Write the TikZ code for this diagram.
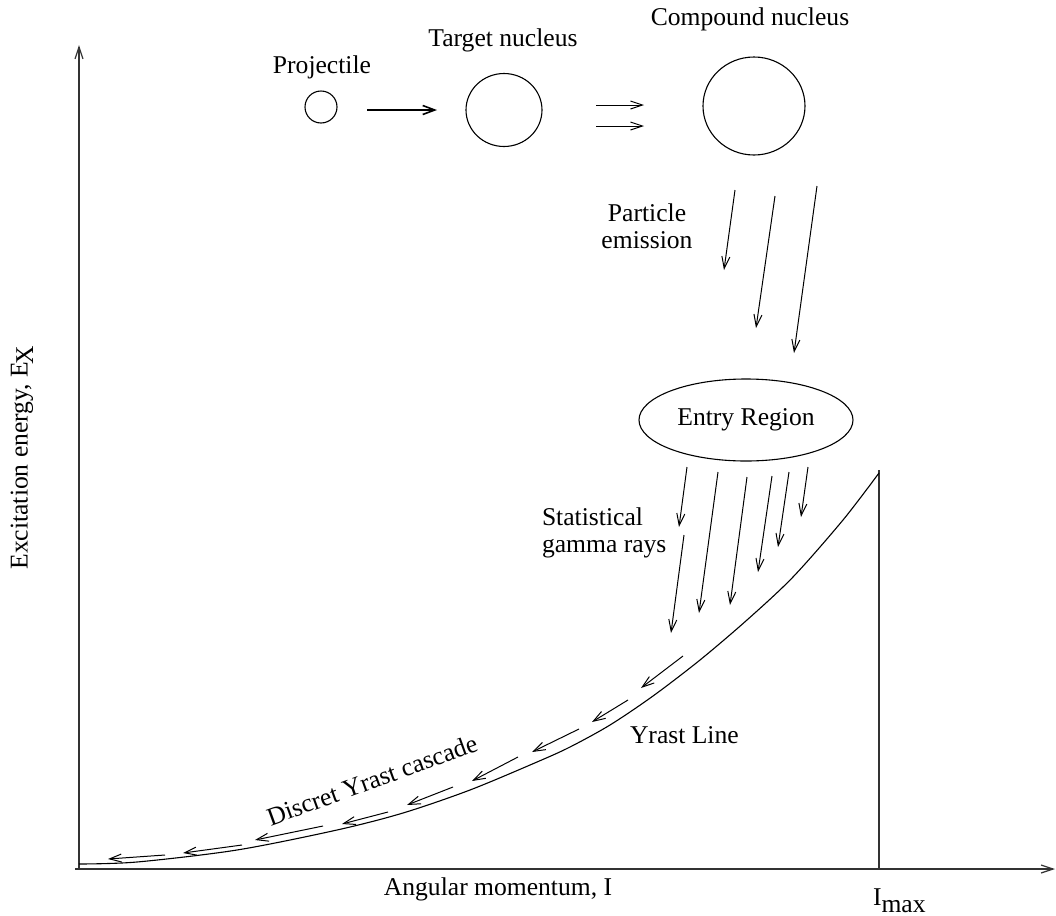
\documentclass[tikz,border=0pt]{standalone}
\usepackage{fontspec}
\setmainfont{Liberation Serif}
\usetikzlibrary{arrows.meta,shapes.geometric}
\begin{document}
\begin{tikzpicture}[x=0.5pt,y=-0.5pt,
  every node/.style={font=\fontsize{12.8}{14}\selectfont, inner sep=0pt, outer sep=0pt},
  nuc/.style={draw, ellipse, line width=0.55pt},
  arr/.style={line width=0.5pt, -{Straight Barb[length=6pt,width=4pt,line width=0.5pt]}},
  axis/.style={line width=0.7pt, draw=black!80, -{Straight Barb[length=6pt,width=4pt,line width=0.6pt]}},
  lbl/.style={anchor=base}]
\useasboundingbox (0,0) rectangle (1056,916);
% axes
\coordinate (O) at (79,869);
\coordinate (ytop) at (79,45);
\coordinate (xend) at (1055,869);
\coordinate (imaxb) at (879,869);
\coordinate (imaxt) at (879,470);
\draw[axis] (O) -- (ytop);
\draw[axis] (75,869) -- (xend);
\draw[line width=0.7pt, draw=black!80] (imaxb) -- (imaxt);
% axis labels
\node[rotate=90] (ylab) at (22,458) {Excitation energy, E\kern-0.12em\raisebox{-0.45ex}{X}};
\node[lbl] (xlab) at (498,895) {Angular momentum, I};
\node[anchor=base west] (imax) at (873,905) {I\raisebox{-3.5pt}{max}};
% nuclei
\node[nuc, minimum width=16pt, minimum height=16pt] (proj) at (321,107) {};
\node[nuc, minimum width=38pt, minimum height=36.5pt] (targ) at (504,110) {};
\node[nuc, minimum width=51pt, minimum height=49pt] (comp) at (754,106) {};
\node[nuc, minimum width=107pt, minimum height=41pt] (entry) at (746,420) {};
\node (entrytxt) at (746,420) {Entry Region};
\node[lbl] (projlbl) at (322,73) {Projectile};
\node[lbl] (targlbl) at (503,46) {Target nucleus};
\node[lbl] (complbl) at (750,25) {Compound nucleus};
\node[lbl] (pe1) at (647,221) {Particle};
\node[lbl] (pe2) at (647,248) {emission};
\node[anchor=base west] (sg1) at (542,525) {Statistical};
\node[anchor=base west] (sg2) at (542,552) {gamma rays};
\node[anchor=base west] (ylinelbl) at (630,743) {Yrast Line};
\node[rotate=20] (casclbl) at (372,780) {Discret Yrast cascade};
% reaction arrows
\draw[line width=1pt, -{Straight Barb[length=6pt,width=4.5pt,line width=0.8pt]}] (367,110) -- (437,110);
\draw[arr] (596,105) -- (644,105);
\draw[arr] (596,126) -- (644,126);
% particle emission
\draw[arr] (735,190) -- (724,270);
\draw[arr] (775,196) -- (756,328);
\draw[arr] (817,186) -- (794,353);
% statistical gamma rays
\draw[arr] (687,467) -- (679,527);
\draw[arr] (684,535) -- (671,633);
\draw[arr] (718,472) -- (699,613);
\draw[arr] (747,477) -- (730,605);
\draw[arr] (772,476) -- (758,572);
\draw[arr] (789,472) -- (778,547);
\draw[arr] (808,467) -- (801,517);
% yrast line
\draw[line width=0.55pt] plot[smooth] coordinates {(79,864) (137,862) (237,850) (337,830) (403,813) (470,790) (537,762) (570,747) (610,725) (653,696) (700,660) (747,620) (793,577) (843,520) (879,473)};
% cascade
\draw[arr] (683,656) -- (641,688);
\draw[arr] (628,700) -- (592,722);
\draw[arr] (579,729) -- (532,752);
\draw[arr] (518,757) -- (472,781);
\draw[arr] (453,787) -- (407,805);
\draw[arr] (388,812) -- (342,824);
\draw[arr] (323,826) -- (255,840);
\draw[arr] (242,845) -- (183,853);
\draw[arr] (165,855) -- (108,859);
\end{tikzpicture}
\end{document}
